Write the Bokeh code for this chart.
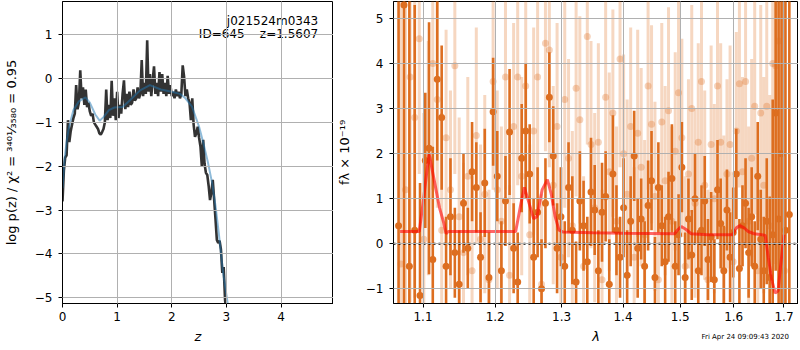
from bokeh.plotting import figure
from bokeh.models import ColumnDataSource, Label, Span, PrintfTickFormatter, GridBox, Div
from bokeh.embed import file_html
from bokeh.resources import INLINE

# ---------------- left panel: log p(z) ----------------
z_grid = [0.000, 0.025, 0.050, 0.075, 0.100, 0.125, 0.150, 0.175, 0.200, 0.225,
          0.250, 0.275, 0.300, 0.325, 0.350, 0.375, 0.400, 0.425, 0.450, 0.475,
          0.500, 0.525, 0.550, 0.575, 0.600, 0.625, 0.650, 0.675, 0.700, 0.725,
          0.750, 0.775, 0.800, 0.825, 0.850, 0.875, 0.900, 0.925, 0.950, 0.975,
          1.000, 1.025, 1.050, 1.075, 1.100, 1.125, 1.150, 1.175, 1.200, 1.225,
          1.250, 1.275, 1.300, 1.325, 1.350, 1.375, 1.400, 1.425, 1.450, 1.475,
          1.500, 1.525, 1.550, 1.575, 1.600, 1.625, 1.650, 1.675, 1.700, 1.725,
          1.750, 1.775, 1.800, 1.825, 1.850, 1.875, 1.900, 1.925, 1.950, 1.975,
          2.000, 2.025, 2.050, 2.075, 2.100, 2.125, 2.150, 2.175, 2.200, 2.225,
          2.250, 2.275, 2.300, 2.325, 2.350, 2.375, 2.400, 2.425, 2.450, 2.475,
          2.500, 2.525, 2.550, 2.575, 2.600, 2.625, 2.650, 2.675, 2.700, 2.725,
          2.750, 2.775, 2.800, 2.825, 2.850, 2.875, 2.900, 2.925, 2.950, 2.975,
          3.000]
logpz = [-2.80, -2.10, -1.80, -1.75, -0.95, -1.45, -1.20, -1.05, -0.90, -0.80,
         -0.15, -0.70, -0.55, 0.19, -0.45, -0.20, -0.60, -0.25, -0.65, -0.55,
         -0.75, -0.85, -0.80, -1.00, -1.05, -1.10, -1.15, -1.25, -1.28, -1.22,
         -1.15, -1.00, -0.25, -0.95, -0.60, -0.90, -0.05, -0.85, -0.45, -0.95,
         -0.30, -0.90, -0.60, -0.80, -0.35, -0.04, -0.70, -0.35, -0.65, -0.30,
         -0.60, -0.55, -0.25, -0.50, -0.45, -0.20, -0.45, -0.35, 0.42, -0.40,
         -0.10, -0.35, 0.87, -0.30, 0.10, -0.40, -0.05, 0.28, -0.35, -0.10,
         -0.40, 0.15, -0.30, 0.10, -0.35, -0.10, -0.40, 0.06, -0.35, -0.15,
         -0.40, -0.30, -0.45, -0.25, -0.40, -0.30, -0.45, -0.35, 0.30, 0.05,
         -0.40, -0.25, -0.45, -0.55, -0.95, -0.45, -1.05, -1.33, -1.25, -1.10,
         -1.35, -1.55, -2.00, -1.40, -1.95, -2.15, -2.20, -2.45, -2.77, -2.60,
         -2.31, -2.75, -3.20, -3.68, -3.75, -3.70, -3.90, -4.43, -4.30, -5.04,
         -5.40]
z_smooth = [0.00, 0.04, 0.08, 0.12, 0.20, 0.30, 0.42, 0.50, 0.60, 0.68,
            0.75, 0.85, 0.95, 1.10, 1.24, 1.42, 1.60, 1.80, 2.00, 2.15,
            2.25, 2.37, 2.50, 2.58, 2.66, 2.74, 2.80, 2.86, 2.94, 3.02, 3.06]
logpz_smooth = [-2.50, -1.80, -1.40, -1.10, -0.72, -0.52, -0.43, -0.55, -0.82, -0.96,
                -0.88, -0.72, -0.66, -0.65, -0.49, -0.27, -0.15, -0.25, -0.30, -0.35,
                -0.45, -0.64, -1.10, -1.48, -1.90, -2.39, -2.90, -3.52, -4.43, -5.10, -5.50]

left_xticks = [0, 1, 2, 3, 4]
left_yticks = [-5, -4, -3, -2, -1, 0, 1]

# ---------------- right panel: spectrum ----------------
wave_dark = [1.068, 1.075, 1.082, 1.089, 1.096, 1.103, 1.108, 1.113, 1.119, 1.125,
             1.131, 1.137, 1.143, 1.149, 1.155, 1.161, 1.167, 1.173, 1.179, 1.185,
             1.191, 1.197, 1.203, 1.209, 1.215, 1.221, 1.227, 1.233, 1.239, 1.245,
             1.251, 1.257, 1.263, 1.269, 1.275, 1.281, 1.287, 1.293, 1.299, 1.305,
             1.311, 1.317, 1.323, 1.329, 1.335, 1.341, 1.347, 1.353, 1.359, 1.365,
             1.371, 1.377, 1.383, 1.389, 1.395, 1.401, 1.407, 1.413, 1.419, 1.425,
             1.431, 1.437, 1.443, 1.449, 1.455, 1.461, 1.467, 1.473, 1.479, 1.485,
             1.491, 1.497, 1.503, 1.509, 1.515, 1.521, 1.527, 1.533, 1.539, 1.545,
             1.551, 1.557, 1.563, 1.569, 1.575, 1.581, 1.587, 1.593, 1.599, 1.605,
             1.611, 1.617, 1.623, 1.629, 1.635, 1.641, 1.647, 1.653, 1.659, 1.665,
             1.671, 1.677, 1.683, 1.689, 1.695, 1.703, 1.711]
flux_dark = [0.40, 5.30, -0.50, 0.30, -1.15, 1.85, 2.12, -0.35, 3.65, 2.80,
             -0.50, 0.60, -0.20, -0.90, 0.90, -0.10, 1.60, 1.25, -0.30, 1.35,
             -0.75, 2.93, 1.50, -0.60, 0.95, 2.48, -0.10, -0.85, 1.90, 2.50,
             1.55, -0.30, 0.70, -1.00, 0.90, 3.25, 1.95, -0.10, 0.60, -0.50,
             1.25, 0.30, -0.85, 0.95, 0.40, -0.40, 1.15, 0.75, -0.60, 0.70,
             1.05, -0.90, 1.55, 0.30, -0.30, 0.80, -0.70, 0.50, 1.95, -0.10,
             0.55, -0.50, 0.85, 1.40, -0.75, 1.25, 0.40, -0.40, 0.60, 1.45,
             -0.50, 0.20, 1.70, -0.75, 0.55, -0.25, 1.00, -0.60, 0.30, 0.95,
             -0.35, 0.15, -0.80, 1.20, 0.45, -0.60, 0.75, -0.30, 0.25, 1.55,
             -0.55, 0.40, 0.90, -0.20, 0.60, -0.50, 1.50, 0.10, -0.60, 0.50,
             -0.75, 0.20, 2.90, 0.55, 2.00, 0.30, 0.65]
err_dark = [8.0, 8.0, 6.0, 5.0, 2.5, 1.5, 2.8, 2.5, 1.8, 1.6,
            1.1, 1.3, 1.0, 1.2, 1.1, 0.9, 1.1, 1.0, 1.0, 1.2,
            1.0, 1.2, 1.0, 1.1, 1.0, 1.4, 1.0, 1.1, 1.2, 1.5,
            1.1, 1.3, 1.0, 1.1, 1.0, 1.0, 1.1, 1.0, 1.1, 1.0,
            1.0, 1.2, 0.9, 1.1, 1.0, 1.0, 1.2, 1.0, 0.9, 1.1,
            1.0, 1.0, 1.3, 1.0, 0.9, 1.1, 1.0, 1.0, 1.0, 1.1,
            0.9, 1.0, 1.0, 1.1, 0.9, 1.0, 0.9, 1.0, 1.0, 1.2,
            1.0, 0.9, 1.0, 1.0, 0.9, 1.0, 1.0, 0.9, 1.0, 1.0,
            0.9, 1.0, 0.9, 1.1, 1.0, 1.0, 0.9, 1.0, 1.0, 1.0,
            1.1, 0.9, 1.0, 1.0, 1.1, 1.0, 1.2, 1.1, 1.2, 1.4,
            1.8, 3.0, 3.5, 6.0, 6.0, 8.0, 8.0]

wave_light = [1.071, 1.077, 1.083, 1.089, 1.095, 1.101, 1.107, 1.113, 1.119, 1.125,
              1.131, 1.137, 1.143, 1.149, 1.155, 1.161, 1.167, 1.173, 1.179, 1.185,
              1.191, 1.197, 1.203, 1.209, 1.215, 1.221, 1.227, 1.233, 1.239, 1.245,
              1.251, 1.257, 1.263, 1.269, 1.275, 1.281, 1.287, 1.293, 1.299, 1.305,
              1.311, 1.317, 1.323, 1.329, 1.335, 1.341, 1.347, 1.353, 1.359, 1.365,
              1.371, 1.377, 1.383, 1.389, 1.395, 1.401, 1.407, 1.413, 1.419, 1.425,
              1.431, 1.437, 1.443, 1.449, 1.455, 1.461, 1.467, 1.473, 1.479, 1.485,
              1.491, 1.497, 1.503, 1.509, 1.515, 1.521, 1.527, 1.533, 1.539, 1.545,
              1.551, 1.557, 1.563, 1.569, 1.575, 1.581, 1.587, 1.593, 1.599, 1.605,
              1.611, 1.617, 1.623, 1.629, 1.635, 1.641, 1.647, 1.653, 1.659, 1.665,
              1.671, 1.677, 1.683, 1.689, 1.695, 1.701]
flux_light = [-0.45, 1.20, 3.70, 2.80, 4.55, 0.10, 1.90, 4.00, 3.20, 0.30,
              2.35, 1.20, 3.95, 0.60, -0.20, 1.50, -0.60, 2.40, 0.10, 1.10,
              -0.80, 3.60, 1.20, 0.50, 3.70, -0.70, 2.60, 3.70, 1.50, 3.50,
              0.20, 2.50, 3.70, -0.90, 4.45, 4.30, 1.30, 2.60, -0.30, 3.20,
              1.90, 0.40, 3.45, 2.75, -0.50, 4.60, 2.20, 0.80, 2.25, -0.80,
              3.25, 1.60, 2.90, 0.50, 4.10, 2.00, 1.10, 2.60, -0.30, 2.45,
              1.70, 0.20, 3.50, 2.65, 1.05, -0.80, 2.70, 1.40, 2.95, 0.50,
              2.05, 3.35, 2.35, -0.50, 1.55, 3.00, 0.90, 2.25, 3.60, 1.30,
              -0.80, 2.20, 1.00, 3.50, 2.25, 0.30, 1.55, 2.20, -0.40, 2.50,
              3.55, 1.60, 3.60, 0.50, 1.90, 3.05, -0.60, 2.90, 1.30, 3.05,
              0.40, 4.00, 3.95, 4.50, 2.00, -0.60]
err_light = [6.0, 6.0, 5.0, 4.0, 3.0, 2.8, 2.6, 2.8, 2.4, 2.6,
             2.4, 2.2, 2.4, 2.2, 2.0, 2.2, 2.1, 2.4, 2.1, 2.2,
             2.0, 2.4, 2.2, 2.1, 2.5, 2.0, 2.3, 2.4, 2.2, 2.4,
             2.0, 2.3, 2.5, 2.0, 2.4, 2.6, 2.2, 2.3, 2.0, 2.4,
             2.2, 2.1, 2.4, 2.3, 2.0, 2.4, 2.3, 2.1, 2.2, 2.0,
             2.3, 2.2, 2.3, 2.1, 2.4, 2.2, 2.1, 2.2, 2.0, 2.3,
             2.2, 2.1, 2.3, 2.2, 2.1, 2.0, 2.2, 2.1, 2.3, 2.1,
             2.2, 2.3, 2.2, 2.0, 2.1, 2.3, 2.1, 2.2, 2.3, 2.1,
             2.0, 2.2, 2.1, 2.3, 2.2, 2.1, 2.1, 2.2, 2.0, 2.2,
             2.3, 2.1, 2.4, 2.1, 2.2, 2.4, 2.1, 2.4, 2.4, 2.6,
             2.9, 3.9, 4.4, 5.4, 6.0, 7.0]

wave_model = [1.070, 1.095, 1.100, 1.108, 1.115, 1.122, 1.128, 1.131, 1.134, 1.230,
              1.238, 1.243, 1.250, 1.257, 1.262, 1.270, 1.278, 1.284, 1.290, 1.296,
              1.302, 1.350, 1.400, 1.490, 1.495, 1.502, 1.510, 1.520, 1.550, 1.598,
              1.605, 1.612, 1.620, 1.628, 1.640, 1.655, 1.662, 1.668, 1.675, 1.682,
              1.688, 1.693, 1.700]
flux_model = [0.27, 0.27, 0.90, 2.00, 1.40, 0.80, 0.45, 0.22, 0.27, 0.27,
              0.90, 1.25, 0.90, 0.55, 0.60, 1.20, 1.42, 1.10, 0.60, 0.30,
              0.26, 0.24, 0.23, 0.22, 0.30, 0.38, 0.32, 0.22, 0.20, 0.20,
              0.35, 0.40, 0.35, 0.27, 0.22, 0.20, 0.18, -0.30, -0.80, -1.10,
              -1.05, -0.50, 0.20]

right_xticks = [1.1, 1.2, 1.3, 1.4, 1.5, 1.6, 1.7]
right_yticks = [-1, 0, 1, 2, 3, 4, 5]

timestamp = "Fri Apr 24 09:09:43 2020"

FONT = "DejaVu Sans"
ORANGE = "#dd6e20"


def style(p):
    p.outline_line_color = "black"
    p.outline_line_width = 1
    p.outline_line_alpha = 1
    for ax in (p.xaxis, p.yaxis):
        ax.major_tick_out = 4
        ax.major_tick_in = 0
        ax.minor_tick_line_color = None
        ax.major_tick_line_color = "black"
        ax.axis_line_color = "black"
        ax.major_label_text_font = FONT
        ax.major_label_text_font_size = "12px"
        ax.major_label_text_color = "black"
        ax.major_label_standoff = 6
        ax.axis_label_text_font = FONT
        ax.axis_label_text_font_size = "13px"
        ax.axis_label_text_color = "black"
        ax.axis_label_text_font_style = "normal"
    p.xaxis.axis_label_text_font_style = "italic"
    p.xaxis.major_label_standoff = 4
    p.xaxis.axis_label_standoff = 5
    for g in (p.xgrid, p.ygrid):
        g.grid_line_color = "#b0b0b0"
        g.grid_line_width = 1
        g.level = "overlay"
    p.background_fill_color = "white"
    p.border_fill_color = "white"


# ---------- left figure ----------
p1 = figure(frame_width=271, frame_height=302, x_range=(0, 4.96), y_range=(-5.13, 1.757),
            output_backend="svg", toolbar_location=None,
            min_border_left=62, min_border_right=0, min_border_top=1, min_border_bottom=42)
style(p1)
p1.xaxis.ticker = left_xticks
p1.yaxis.ticker = left_yticks
p1.xaxis.axis_label = "z"
p1.yaxis.axis_label = "log p(z) / \u03c7\u00b2 = \u00b3\u2074\u2070\u00b9\u2044\u2083\u2085\u2088\u2080 = 0.95"
p1.yaxis.axis_label_standoff = 13

p1.line(z_grid, logpz, line_color="black", line_alpha=0.8, line_width=2.6)
p1.line(z_smooth, logpz_smooth, line_color="#1f77b4", line_alpha=0.5, line_width=2)

p1.add_layout(Label(x=4.68, y=1.31, text="j021524m0343", text_align="right",
                    text_baseline="middle", text_font=FONT, text_font_size="12px",
                    text_color="black"))
p1.add_layout(Label(x=4.68, y=1.01, text="ID=645\u00a0\u00a0\u00a0\u00a0z=1.5607", text_align="right",
                    text_baseline="middle", text_font=FONT, text_font_size="12px",
                    text_color="black"))

# ---------- right figure ----------
p2 = figure(frame_width=405, frame_height=302, x_axis_type="log",
            x_range=(1.0615, 1.730), y_range=(-1.33, 5.38),
            output_backend="svg", toolbar_location=None,
            min_border_left=59, min_border_right=0, min_border_top=1, min_border_bottom=42)
style(p2)
p2.xaxis.ticker = right_xticks
p2.xaxis.formatter = PrintfTickFormatter(format="%.1f")
p2.yaxis.ticker = right_yticks
p2.xaxis.axis_label = "\u03bb"
p2.yaxis.axis_label = "f\u03bb \u00d7 10\u207b\u00b9\u2079"
p2.yaxis.axis_label_standoff = 11

light = ColumnDataSource(dict(
    w=wave_light, f=flux_light,
    lo=[f - e for f, e in zip(flux_light, err_light)],
    hi=[f + e for f, e in zip(flux_light, err_light)]))
dark = ColumnDataSource(dict(
    w=wave_dark, f=flux_dark,
    lo=[f - e for f, e in zip(flux_dark, err_dark)],
    hi=[f + e for f, e in zip(flux_dark, err_dark)]))

p2.segment(x0="w", y0="lo", x1="w", y1="hi", source=light,
           line_color=ORANGE, line_alpha=0.28, line_width=3)
p2.scatter(x="w", y="f", source=light, size=7, fill_color=ORANGE, fill_alpha=0.3,
           line_color=None)
p2.segment(x0="w", y0="lo", x1="w", y1="hi", source=dark,
           line_color=ORANGE, line_alpha=1.0, line_width=2.6)
p2.scatter(x="w", y="f", source=dark, size=7, fill_color=ORANGE, fill_alpha=1.0,
           line_color=None)
p2.line(wave_model, flux_model, line_color="red", line_alpha=0.6, line_width=3)
p2.add_layout(Span(location=0, dimension="width", line_color="black",
                   line_dash="2 3", line_width=2))

ts = Div(text=timestamp, width=110, height=10, align="end", margin=(0, 9, 4, 0),
         styles={"font-size": "7px", "font-family": "DejaVu Sans", "text-align": "right",
                 "color": "black", "line-height": "10px"})

layout = GridBox(children=[(p1, 0, 0), (p2, 0, 1), (ts, 0, 1)], spacing=0)
open("out.html", "w").write(file_html(layout, INLINE))
